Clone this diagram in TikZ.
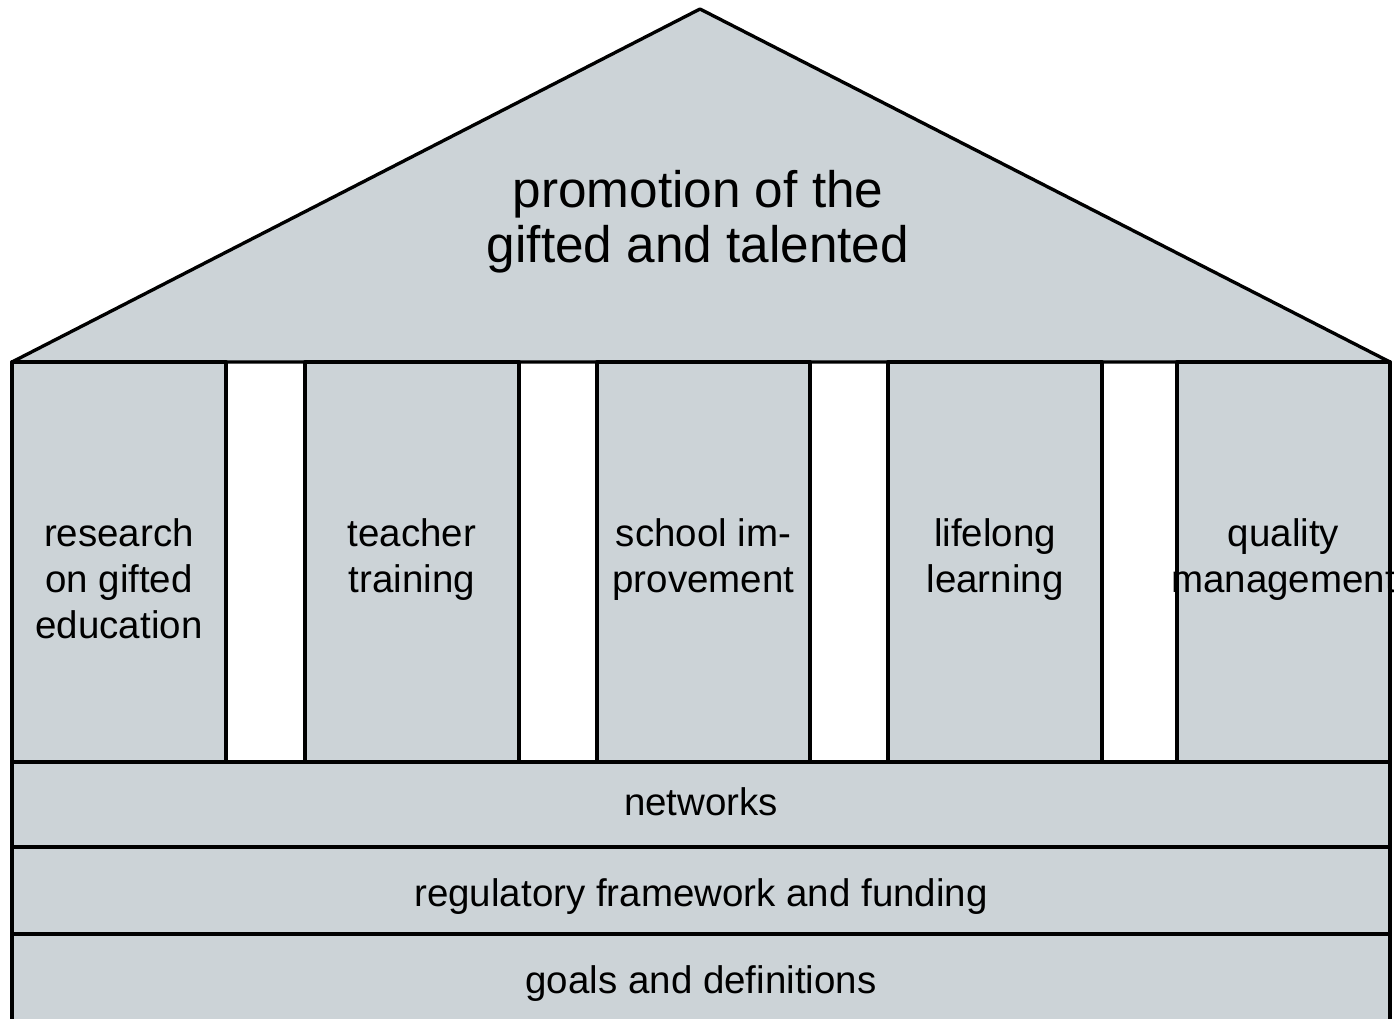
\documentclass[tikz,border=0pt]{standalone}
\usepackage{fontspec}
\setmainfont{Liberation Sans}
\definecolor{housegray}{RGB}{204,211,215}

\begin{document}
\begin{tikzpicture}[x=0.1mm,y=-0.1mm,
    part/.style={draw,fill=housegray,line width=0.95pt,line join=round},
    rooftext/.style={align=center,inner sep=0pt,font=\fontsize{14.6}{15.65}\selectfont},
    pillartext/.style={align=center,inner sep=0pt,anchor=north,font=\fontsize{10.95}{13.1}\selectfont},
    bandtext/.style={inner sep=0pt,anchor=base,font=\fontsize{10.95}{13.1}\selectfont}]
  \useasboundingbox (0,0) rectangle (1394,1018);
  % roof
  \draw[part] (12,362) -- (700,9) -- (1390,362) -- cycle;
  \node[rooftext] (roof) at (698,222) {promotion of the\\gifted and talented};
  % pillars
  \def \Pillars{
    research/12/226/{research\\on gifted\\education},
    teacher/305/519/{teacher\\training},
    school/597/810/{school im-\\provement},
    lifelong/888/1102/{lifelong\\learning},
    quality/1177/1390/{quality\\management}}
  \foreach \name / \xa / \xb / \txt in \Pillars{
    \draw[part] (\xa,362) rectangle (\xb,762);
    \node[pillartext] (\name) at ({(\xa+\xb)/2},518) {\txt};
  }
  % foundation
  \def \Bands{
    networks/762/847/815/networks,
    funding/847/934/906/{regulatory framework and funding},
    goals/934/1030/993/{goals and definitions}}
  \foreach \name / \ya / \yb / \yt / \txt in \Bands{
    \draw[part] (12,\ya) rectangle (1390,\yb);
    \node[bandtext] (\name) at (701,\yt) {\txt};
  }
\end{tikzpicture}
\end{document}
